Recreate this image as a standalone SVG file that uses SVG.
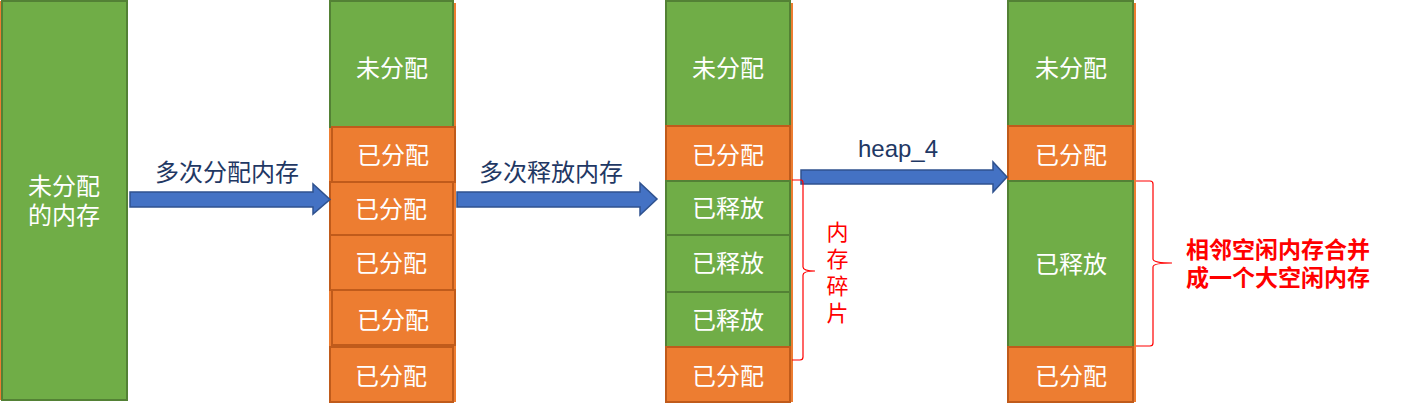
<svg xmlns="http://www.w3.org/2000/svg" width="1407" height="405" viewBox="0 0 1407 405">
<style>
.bg{fill:#ED7D31;}
.g{fill:#70AD47;stroke:#538135;stroke-width:2;}
.o{fill:#ED7D31;stroke:#C05B1B;stroke-width:2;}
.t{font-family:"Liberation Sans","Noto Sans CJK SC",sans-serif;font-size:24px;fill:#FFFFFF;text-anchor:middle;}
.lbl{font-family:"Liberation Sans","Noto Sans CJK SC",sans-serif;font-size:24px;fill:#1F3864;text-anchor:middle;}
.arr{fill:#4472C4;stroke:#2F528F;stroke-width:1.5;}
.brace{fill:none;stroke:#FF0000;stroke-width:1.2;}
.red{font-family:"Liberation Sans","Noto Sans CJK SC",sans-serif;font-size:23px;font-weight:bold;fill:#FF0000;}
.redv{font-family:"Liberation Sans","Noto Sans CJK SC",sans-serif;font-size:22px;fill:#FF0000;writing-mode:tb;letter-spacing:5px;}
</style>

<g id="col1">
  <rect class="bg" x="0" y="1" width="124" height="399"/>
  <rect class="g" x="2" y="1" width="125" height="399"/>
  <text class="t" x="64" y="195">未分配<tspan x="64" dy="29">的内存</tspan></text>
</g>

<g id="col2">
  <rect class="bg" x="329" y="3" width="127" height="399"/>
  <rect class="g" x="330" y="1" width="123" height="126"/>
  <text class="t" x="392" y="77">未分配</text>
  <rect class="o" x="332" y="127" width="123" height="55"/>
  <text class="t" x="393" y="164">已分配</text>
  <rect class="o" x="330" y="182" width="123" height="53"/>
  <text class="t" x="391" y="218">已分配</text>
  <rect class="o" x="330" y="235" width="123" height="55"/>
  <text class="t" x="391" y="272">已分配</text>
  <rect class="o" x="332" y="290" width="123" height="55"/>
  <text class="t" x="393" y="329">已分配</text>
  <rect class="o" x="330" y="347" width="123" height="55"/>
  <text class="t" x="391" y="385">已分配</text>
</g>

<g id="col3">
  <rect class="bg" x="666" y="3" width="127" height="399"/>
  <rect class="g" x="666" y="1" width="124" height="126"/>
  <text class="t" x="728" y="77">未分配</text>
  <rect class="o" x="666" y="126" width="124" height="55"/>
  <text class="t" x="728" y="164">已分配</text>
  <rect class="g" x="666" y="181" width="124" height="54"/>
  <text class="t" x="728" y="217">已释放</text>
  <rect class="g" x="666" y="235" width="124" height="57"/>
  <text class="t" x="728" y="272">已释放</text>
  <rect class="g" x="666" y="292" width="124" height="55"/>
  <text class="t" x="728" y="329">已释放</text>
  <rect class="o" x="666" y="347" width="124" height="55"/>
  <text class="t" x="728" y="385">已分配</text>
</g>

<g id="col4">
  <rect class="bg" x="1008" y="3" width="128" height="399"/>
  <rect class="g" x="1008" y="1" width="125" height="125"/>
  <text class="t" x="1071" y="77">未分配</text>
  <rect class="o" x="1008" y="126" width="125" height="55"/>
  <text class="t" x="1071" y="164">已分配</text>
  <rect class="g" x="1008" y="181" width="125" height="166"/>
  <text class="t" x="1071" y="273">已释放</text>
  <rect class="o" x="1008" y="347" width="125" height="55"/>
  <text class="t" x="1071" y="385">已分配</text>
</g>

<g id="connectors">
  <path class="arr" d="M130,192 L313,192 L313,184 L330,199.5 L313,214 L313,207 L130,207 Z"/>
  <text class="lbl" x="227" y="181">多次分配内存</text>
  <path class="arr" d="M457,192 L640,192 L640,183 L657,199 L640,215 L640,207 L457,207 Z"/>
  <text class="lbl" x="551" y="181">多次释放内存</text>
  <path class="arr" d="M801,170 L993,170 L993,162 L1007,177 L993,192 L993,184 L801,184 Z"/>
  <text class="lbl" x="898" y="157">heap_4</text>
</g>

<g id="fragment-note">
  <path class="brace" d="M792,180 L801,180 Q803,180 803,183 L803,267 Q803,271 815,271 Q803,271 803,275 L803,357 Q803,360 800,360 L792,360"/>
  <text class="redv" x="835" y="221">内存碎片</text>
</g>

<g id="merge-note">
  <path class="brace" d="M1136,181 L1150,181 Q1153,181 1153,184 L1153,259 Q1153,263 1172,263 Q1153,263 1153,267 L1153,343 Q1153,346 1150,346 L1136,346"/>
  <text class="red" x="1186" y="258">相邻空闲内存合并<tspan x="1186" dy="28">成一个大空闲内存</tspan></text>
</g>
</svg>
